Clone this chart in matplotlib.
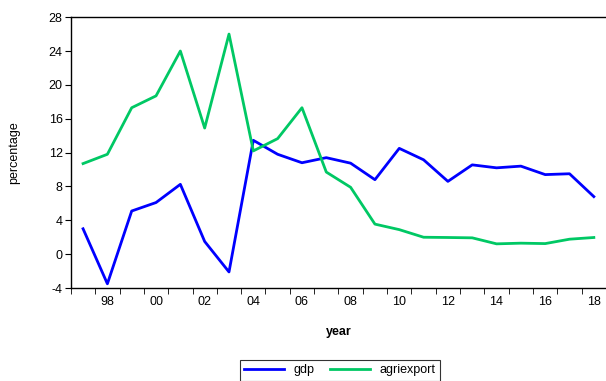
import numpy as np
import matplotlib.pyplot as plt
from matplotlib.ticker import FixedLocator

plt.rcParams['font.family'] = ['Liberation Sans', 'DejaVu Sans']
plt.rcParams['axes.unicode_minus'] = False

years = list(range(1997, 2019))
gdp = [3.0, -3.5, 5.1, 6.1, 8.25, 1.5, -2.1, 13.45, 11.8, 10.8, 11.4,
       10.75, 8.8, 12.5, 11.15, 8.6, 10.55, 10.2, 10.4, 9.4, 9.5, 6.8]
agriexport = [10.7, 11.8, 17.3, 18.7, 24.0, 14.9, 26.0, 12.2, 13.65, 17.3, 9.7,
              7.9, 3.55, 2.9, 2.0, 1.97, 1.93, 1.22, 1.3, 1.25, 1.77, 1.97]
yticks = [-4, 0, 4, 8, 12, 16, 20, 24, 28]

fig = plt.figure(figsize=(6.06, 3.81), dpi=100)
ax = fig.add_axes([0.117, 0.244, 0.883, 0.711])

ax.plot(years, gdp, color='#0000FF', lw=2.0, label='gdp')
ax.plot(years, agriexport, color='#00C864', lw=2.0, label='agriexport')

ax.set_xlim(years[0] - 0.5, years[-1] + 0.5)
ax.set_ylim(-4, 28)
ax.set_yticks(yticks)
ax.tick_params(axis='y', direction='out', length=4, labelsize=9, pad=2)

# labels at even years, tick marks on year boundaries
even = [y for y in years if y % 2 == 0]
ax.set_xticks(even)
ax.set_xticklabels([f"{y % 100:02d}" for y in even])
ax.xaxis.set_minor_locator(FixedLocator(np.arange(years[0] - 0.5, years[-1] + 1, 1)))
ax.tick_params(axis='x', which='major', length=0, labelsize=9, pad=6)
ax.tick_params(axis='x', which='minor', direction='out', length=4)

for s in ax.spines.values():
    s.set_linewidth(1.0)
ax.spines['right'].set_visible(False)

ax.set_xlabel('year', fontsize=9, fontweight='bold', labelpad=13)
ax.set_ylabel('percentage', fontsize=9)
ax.yaxis.set_label_coords(-0.094, 0.5)

leg = fig.legend(loc='upper center', bbox_to_anchor=(0.561, 0.055), ncol=2,
                 fontsize=9, frameon=True, fancybox=False, handlelength=3.2,
                 borderpad=0.35, columnspacing=1.2, borderaxespad=0)
leg.get_frame().set_edgecolor('black')
leg.get_frame().set_linewidth(0.8)

fig.savefig('out.png', dpi=100)
